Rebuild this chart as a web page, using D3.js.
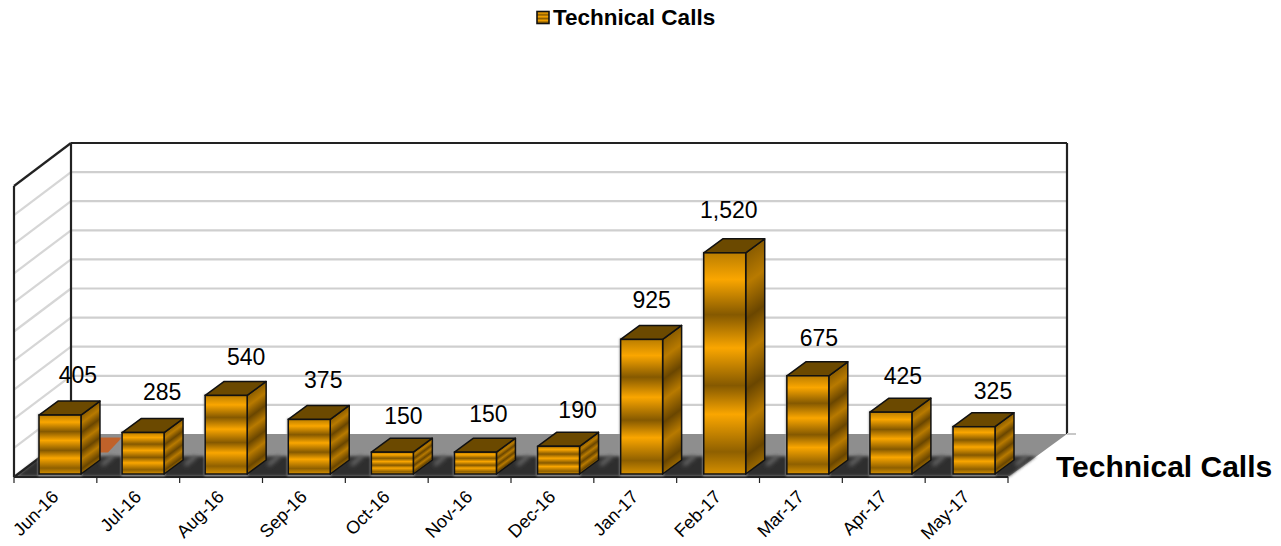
<!DOCTYPE html>
<html><head><meta charset="utf-8">
<script src="https://cdnjs.cloudflare.com/ajax/libs/d3/7.8.5/d3.min.js"></script>
<style>html,body{margin:0;padding:0;background:#fff}svg{display:block}text{font-family:"Liberation Sans",Arial,sans-serif;fill:#000}</style>
</head><body><svg id="c" width="1281" height="546"></svg>
<script>
const categories=["Jun-16","Jul-16","Aug-16","Sep-16","Oct-16","Nov-16","Dec-16","Jan-17","Feb-17","Mar-17","Apr-17","May-17"];
const values=[405,285,540,375,150,150,190,925,1520,675,425,325];
const seriesName="Technical Calls";
const gridTicks=d3.range(0,2001,200);
// small per-label nudges: the reference places its value labels unevenly
const labelNudgeX=[0,1,2,-4,-7,-5,1,-8,-14,-7,-6,1];
const labelNudgeY=[-1,-2,1,0,3,1,3,0,-4,1,3,3];

const svg=d3.select("#c");
const defs=svg.append("defs");
const frontStops=[[0,"#bb7e00"],[.12,"#faa600"],[.28,"#855900"],[.43,"#faa600"],[.6,"#855900"],[.73,"#faa600"],[.9,"#8f6000"],[1,"#d69000"]];
const fg=defs.append("linearGradient").attr("id","front").attr("x1",0).attr("y1",0).attr("x2",0).attr("y2",1);
frontStops.forEach(s=>fg.append("stop").attr("offset",s[0]).attr("stop-color",s[1]));
const sideStops=[[0,"#8a5c00"],[.14,"#b87a00"],[.3,"#6a4600"],[.45,"#b87a00"],[.62,"#6a4600"],[.76,"#b87a00"],[.92,"#6a4600"],[1,"#9a6800"]];
defs.append("filter").attr("id","blur").attr("x","-5%").attr("y","-30%").attr("width","110%").attr("height","160%").append("feGaussianBlur").attr("stdDeviation",1.6);
defs.append("filter").attr("id","halo").attr("x","-30%").attr("y","-30%").attr("width","160%").attr("height","160%").append("feGaussianBlur").attr("stdDeviation",1.2);
defs.append("filter").attr("id","streak").attr("filterUnits","userSpaceOnUse").attr("x",0).attr("y",420).attr("width",1281).attr("height",70).append("feGaussianBlur").attr("stdDeviation",2);

// projection
const depth=[57,-43];
const xWall=d3.scaleLinear().domain([0,12]).range([14,1008]);
const yWall=d3.scaleLinear().domain([0,2000]).range([477,186]);
const P=(a,v,d)=>[xWall(a)+d*depth[0]+(a===12?d*2:0),yWall(v)+d*depth[1]];
const poly=pts=>pts.map(p=>p.join(",")).join(" ");

// bar geometry
const x=d3.scaleBand().domain(categories).range([39,995]).paddingInner(.495).paddingOuter(0);
const y=d3.scaleLinear().domain([0,2000]).range([474,183]);
const bw=x.bandwidth(),dx=19,dy=-14;
const data=categories.map((c,i)=>({c,v:values[i],i}));

// floor
svg.append("polygon").attr("points",poly([P(0,0,0),P(0,0,1),P(12,0,1),P(12,0,0)])).attr("fill","#8e8e8e");
svg.append("polygon").attr("points",poly([P(.02,0,.02),P(0,0,.48),P(12,0,.48),P(12,0,.02)])).attr("fill","#2f2f2f").attr("filter","url(#blur)");
svg.selectAll("line.streak").data(data).join("line")
 .attr("x1",d=>x(d.c)+bw+dx+2).attr("y1",y(0)+dy+5)
 .attr("x2",d=>x(d.c)+bw+dx+13).attr("y2",y(0)+dy-4)
 .attr("stroke","#6a6a6a").attr("stroke-width",4).attr("filter","url(#streak)");
svg.append("polygon").attr("points",poly([[100,437.5],[122,437.5],[108,452.5],[100,452.5]])).attr("fill","#c0622a");

// walls
const g=svg.append("g");
g.selectAll("line.bg").data(gridTicks.slice(1,-1)).join("line")
 .attr("x1",P(0,0,1)[0]).attr("x2",P(12,0,1)[0]).attr("y1",d=>P(0,d,1)[1]).attr("y2",d=>P(0,d,1)[1])
 .attr("stroke","#cfcfcf").attr("stroke-width",2.2);
g.selectAll("line.sg").data(gridTicks.slice(1,-1)).join("line")
 .attr("x1",P(0,0,0)[0]).attr("x2",P(0,0,1)[0]).attr("y1",d=>P(0,d,0)[1]).attr("y2",d=>P(0,d,1)[1])
 .attr("stroke","#d6d6d6").attr("stroke-width",2.2);
const wall="#222";
[[P(0,0,0),P(0,2000,0)],[P(0,0,1),P(0,2000,1)],[P(0,2000,0),P(0,2000,1)],[P(0,2000,1),P(12,2000,1)],[P(12,2000,1),P(12,0,1)],[P(0,0,0),P(12,0,0)],[P(0,0,0),P(0,0,1)]]
 .forEach(l=>svg.append("line").attr("x1",l[0][0]).attr("y1",l[0][1]).attr("x2",l[1][0]).attr("y2",l[1][1]).attr("stroke",wall).attr("stroke-width",2.2));
svg.append("line").attr("x1",1067).attr("x2",1076).attr("y1",434).attr("y2",434).attr("stroke","#c8c8c8").attr("stroke-width",2);

// ticks + labels
svg.selectAll("line.t").data(d3.range(0,13)).join("line")
 .attr("x1",d=>xWall(d)).attr("x2",d=>xWall(d)).attr("y1",477).attr("y2",483).attr("stroke",wall).attr("stroke-width",1.2);
svg.selectAll("text.cat").data(categories).join("text").attr("class","cat")
 .attr("transform",(d,i)=>`translate(${xWall(i)+45.5},${498}) rotate(-45)`)
 .attr("text-anchor","end").attr("font-size",18).text(d=>d);

// side gradients sheared along the depth direction
data.forEach(d=>{
  const a=x(d.c)+bw,k=dy/dx;
  const sg=defs.append("linearGradient").attr("id","side"+d.i).attr("gradientUnits","userSpaceOnUse")
    .attr("x1",a).attr("x2",a).attr("y1",y(d.v)).attr("y2",y(0))
    .attr("gradientTransform",`matrix(1,${k},0,1,0,${-k*a})`);
  sideStops.forEach(s=>sg.append("stop").attr("offset",s[0]).attr("stop-color",s[1]));
});
const bars=svg.selectAll("g.bar").data(data).join("g").attr("class","bar");
bars.append("rect").attr("x",d=>x(d.c)-1).attr("y",d=>y(d.v)-1).attr("width",bw+2).attr("height",d=>y(0)-y(d.v)+3).attr("fill","#9a9a9a").attr("filter","url(#halo)");
bars.append("polygon").attr("points",d=>{const a=x(d.c)+bw;return poly([[a,y(d.v)],[a+dx,y(d.v)+dy],[a+dx,y(0)+dy],[a,y(0)]])})
 .attr("fill",d=>`url(#side${d.i})`).attr("stroke","#111").attr("stroke-width",1.5).attr("stroke-linejoin","round");
bars.append("polygon").attr("points",d=>{const a=x(d.c);return poly([[a,y(d.v)],[a+dx,y(d.v)+dy],[a+bw+dx,y(d.v)+dy],[a+bw,y(d.v)]])})
 .attr("fill","#6b4900").attr("stroke","#111").attr("stroke-width",1.5).attr("stroke-linejoin","round");
bars.append("rect").attr("x",d=>x(d.c)).attr("y",d=>y(d.v)).attr("width",bw).attr("height",d=>y(0)-y(d.v))
 .attr("fill","url(#front)").attr("stroke","#111").attr("stroke-width",1.5);
bars.append("text").attr("x",d=>x(d.c)+bw/2+18+labelNudgeX[d.i]).attr("y",d=>y(d.v)-31+labelNudgeY[d.i]).attr("text-anchor","middle").attr("font-size",23).text(d=>d3.format(",")(d.v));

// series name on depth axis
svg.append("text").attr("x",1056).attr("y",477).attr("font-size",30).attr("font-weight","bold").text(seriesName);

// legend
svg.append("rect").attr("x",537).attr("y",11.5).attr("width",12).attr("height",12).attr("fill","url(#front)").attr("stroke","#111").attr("stroke-width",1.6);
svg.append("text").attr("x",553).attr("y",25).attr("font-size",22.5).attr("font-weight","bold").text(seriesName);
</script></body></html>
